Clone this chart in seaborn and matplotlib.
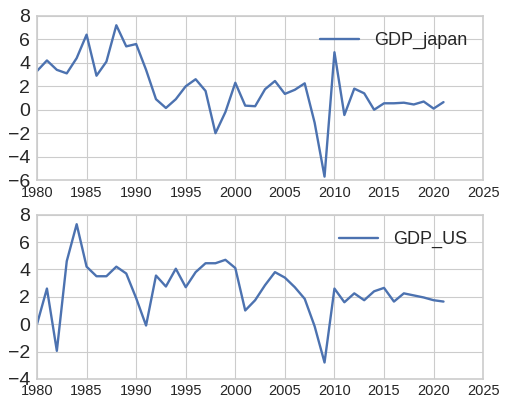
import matplotlib
matplotlib.use("Agg")
import matplotlib.pyplot as plt
import seaborn as sns
import pandas as pd

years = list(range(1980, 2022))
gdp_japan = [3.3, 4.2, 3.4, 3.1, 4.4, 6.4, 2.9, 4.1, 7.2, 5.4,
             5.6, 3.4, 0.9, 0.15, 0.9, 2.0, 2.6, 1.6, -2.0, -0.2,
             2.3, 0.35, 0.3, 1.75, 2.45, 1.35, 1.7, 2.25, -1.1, -5.7,
             4.9, -0.45, 1.8, 1.4, 0.0, 0.55, 0.55, 0.6, 0.45, 0.7,
             0.1, 0.65]
gdp_us = [0.0, 2.6, -1.95, 4.6, 7.3, 4.2, 3.5, 3.5, 4.2, 3.7,
          1.9, -0.1, 3.55, 2.75, 4.05, 2.7, 3.8, 4.45, 4.45, 4.7,
          4.1, 1.0, 1.75, 2.85, 3.8, 3.4, 2.7, 1.85, -0.15, -2.8,
          2.6, 1.6, 2.25, 1.75, 2.4, 2.65, 1.65, 2.25, 2.1, 1.95,
          1.75, 1.65]

df = pd.DataFrame({"year": years, "GDP_japan": gdp_japan, "GDP_US": gdp_us})

sns.set_style("whitegrid", {"grid.color": "#cccccc", "axes.edgecolor": "#cccccc"})
plt.rcParams["font.family"] = ["Liberation Sans", "DejaVu Sans"]

fig, (ax1, ax2) = plt.subplots(2, 1, figsize=(5.07, 4.07), dpi=100)
fig.subplots_adjust(left=0.073, right=0.953, top=0.961, bottom=0.069, hspace=0.21)

for ax, col, ylim in [(ax1, "GDP_japan", (-6, 8)), (ax2, "GDP_US", (-4, 8))]:
    sns.lineplot(data=df, x="year", y=col, ax=ax, color="#4C72B0",
                 linewidth=1.7, label=col)
    ax.set_xlim(1980, 2025)
    ax.set_ylim(*ylim)
    ax.set_xticks(range(1980, 2026, 5))
    ax.set_yticks(range(ylim[0], ylim[1] + 1, 2))
    ax.set_xlabel("")
    ax.set_ylabel("")
    ax.tick_params(axis="x", labelsize=10.5, colors="#262626", length=0, pad=4)
    ax.tick_params(axis="y", labelsize=14, colors="#262626", length=0, pad=5)
    for s in ax.spines.values():
        s.set_color("#cccccc")
        s.set_linewidth(1.2)
    ax.legend(loc="upper right", frameon=False, fontsize=13, handlelength=2.2)

fig.savefig("out.png", dpi=100)
